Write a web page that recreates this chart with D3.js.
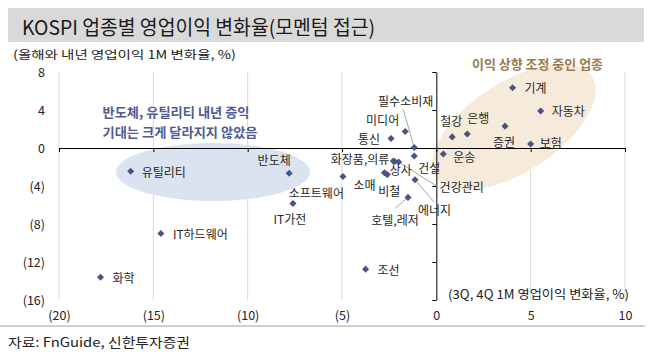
<!DOCTYPE html>
<html><head><meta charset="utf-8">
<script src="https://cdn.jsdelivr.net/npm/d3@7"></script>
<style>
body{margin:0;background:#fff}
text{font-family:"Noto Sans CJK KR","Noto Sans",sans-serif}
</style>
</head><body>
<svg id="c" width="653" height="360"></svg>
<script>
// ---- data ----
const sectors = ["유틸리티","반도체","IT가전","IT하드웨어","화학","조선","소프트웨어","소매","비철","화장품,의류","상사","건강관리","필수소비재","건설","에너지","호텔,레저","통신","미디어","운송","철강","은행","증권","보험","기계","자동차"];
const qChange = [-16.2,-7.8,-7.6,-14.6,-17.8,-3.75,-4.95,-2.75,-2.6,-2.28,-2.2,-2.0,-1.17,-1.17,-1.13,-1.5,-2.4,-1.65,0.37,0.84,1.64,3.64,5.0,4.04,5.53];
const yChange = [-2.45,-2.65,-5.85,-9.0,-13.6,-12.75,-3.0,-2.6,-2.8,-1.38,-1.43,-1.48,0.05,-0.85,-3.35,-5.2,1.0,1.73,-0.64,1.17,1.48,2.3,0.42,6.35,3.9];
const xTicks = [-20,-15,-10,-5,0,5,10];
const yTicks = [8,4,0,-4,-8,-12,-16];

// ---- label layout (px offsets from marker) ----
const labelLayout = {
  "유틸리티":[11,0,"start"],"반도체":[-15,-14,"middle"],"IT가전":[-3,15,"middle"],
  "IT하드웨어":[12,0,"start"],"화학":[12,0,"start"],"조선":[12,0,"start"],
  "소프트웨어":[1,16,"end"],"소매":[-20,12,"middle"],"비철":[2,16,"middle"],
  "화장품,의류":[-4,-3,"end"],"상사":[6,8,"middle"],"건강관리":[41,24,"start"],
  "필수소비재":[19,-47,"end"],"건설":[4,11,"start"],"에너지":[3,30,"start"],
  "호텔,레저":[-13,22,"middle"],"통신":[-11,0,"end"],"미디어":[-6,-12,"end"],
  "운송":[10,2,"start"],"철강":[-1,-16,"middle"],"은행":[11,-16,"middle"],
  "증권":[-1,15,"middle"],"보험":[9,-2,"start"],"기계":[12,0,"start"],"자동차":[11,0,"start"]
};
const leaders = {"필수소비재":[-11,-38],"건강관리":[38,24],"에너지":[19,22],"호텔,레저":[-13,11]};

const svg = d3.select("#c");
const x = d3.scaleLinear().domain([-20,10]).range([59,625]);
const y = d3.scaleLinear().domain([-16,8]).range([300,72]);
const fmt = d => d < 0 ? `(${-d})` : `${d}`;

// title band
svg.append("rect").attr("x",8).attr("y",8).attr("width",636).attr("height",34).attr("fill","#d9d9d9");
svg.append("text").attr("x",22).attr("y",26).attr("dominant-baseline","central")
  .attr("font-size",20).attr("fill","#1a1a1a").attr("textLength",353).attr("lengthAdjust","spacingAndGlyphs")
  .text("KOSPI 업종별 영업이익 변화율(모멘텀 접근)");
svg.append("text").attr("x",13).attr("y",53.5).attr("dominant-baseline","central")
  .attr("font-size",11.5).attr("fill","#222").attr("textLength",223).attr("lengthAdjust","spacingAndGlyphs")
  .text("(올해와 내년 영업이익 1M 변화율, %)");

// gridlines
svg.append("g").selectAll("line").data(xTicks.filter(d=>d!==0)).join("line")
  .attr("x1",d=>x(d)).attr("x2",d=>x(d)).attr("y1",y(8)).attr("y2",y(-16))
  .attr("stroke","#d9d9d9").attr("stroke-width",1);

// ellipses
svg.append("ellipse").attr("cx",213).attr("cy",172).attr("rx",97).attr("ry",29).attr("fill","#dce3f0");
svg.append("ellipse").attr("cx",0).attr("cy",0).attr("rx",93).attr("ry",45)
  .attr("transform","translate(514,127) rotate(-33)").attr("fill","#f6ebdb");

// y axis line at x=0
const yAxis = d3.axisLeft(y).tickValues(yTicks).tickSize(4).tickFormat("").tickSizeOuter(0);
const gy = svg.append("g").attr("transform",`translate(${x(0)},0)`).call(yAxis);
gy.selectAll("path,line").attr("stroke","#000");
// y labels
const gyl = svg.append("g").attr("transform","translate(45,0)")
  .call(d3.axisLeft(y).tickValues(yTicks).tickSize(0).tickPadding(0).tickFormat(fmt));
gyl.select(".domain").remove();
gyl.selectAll("text").attr("font-size",12.5).attr("fill","#222").attr("font-family","'Noto Sans CJK KR',sans-serif");

// x axis line at y=0
const gx = svg.append("g").attr("transform",`translate(0,${y(0)})`)
  .call(d3.axisBottom(x).tickValues(xTicks).tickSize(4).tickFormat("").tickSizeOuter(0));
gx.selectAll("path,line").attr("stroke","#000");
const gxl = svg.append("g").attr("transform","translate(0,316)")
  .call(d3.axisBottom(x).tickValues(xTicks).tickSize(0).tickPadding(0).tickFormat(fmt));
gxl.select(".domain").remove();
gxl.selectAll("text").attr("font-size",12.5).attr("fill","#222").attr("dy","0.32em").attr("y",0)
  .attr("font-family","'Noto Sans CJK KR',sans-serif");

const pts = sectors.map((s,i)=>({name:s,px:x(qChange[i]),py:y(yChange[i])}));

// leaders
svg.append("g").selectAll("line").data(pts.filter(p=>leaders[p.name])).join("line")
  .attr("x1",p=>p.px).attr("y1",p=>p.py)
  .attr("x2",p=>p.px+leaders[p.name][0]).attr("y2",p=>p.py+leaders[p.name][1])
  .attr("stroke","#a6a6a6").attr("stroke-width",1);

// markers
svg.append("g").selectAll("path").data(pts).join("path")
  .attr("d",d3.symbol().type(d3.symbolSquare).size(25))
  .attr("transform",p=>`translate(${p.px},${p.py}) rotate(45)`)
  .attr("fill","#4b5384");

// labels
svg.append("g").selectAll("text").data(pts).join("text")
  .attr("x",p=>p.px+labelLayout[p.name][0]).attr("y",p=>p.py+labelLayout[p.name][1])
  .attr("text-anchor",p=>labelLayout[p.name][2]).attr("dominant-baseline","central")
  .attr("font-size",12).attr("fill","#262626").text(p=>p.name);

// annotations
svg.append("text").attr("x",176).attr("y",111).attr("text-anchor","middle").attr("dominant-baseline","central")
  .attr("font-size",13).attr("font-weight","bold").attr("fill","#505b94")
  .attr("textLength",147).attr("lengthAdjust","spacingAndGlyphs").text("반도체, 유틸리티 내년 증익");
svg.append("text").attr("x",180).attr("y",131).attr("text-anchor","middle").attr("dominant-baseline","central")
  .attr("font-size",13).attr("font-weight","bold").attr("fill","#505b94")
  .attr("textLength",155).attr("lengthAdjust","spacingAndGlyphs").text("기대는 크게 달라지지 않았음");
svg.append("text").attr("x",472).attr("y",63).attr("dominant-baseline","central")
  .attr("font-size",13).attr("font-weight","bold").attr("fill","#9b7b4e")
  .attr("textLength",131).attr("lengthAdjust","spacingAndGlyphs").text("이익 상향 조정 중인 업종");
svg.append("text").attr("x",448).attr("y",293).attr("dominant-baseline","central")
  .attr("font-size",12.5).attr("fill","#222")
  .attr("textLength",181).attr("lengthAdjust","spacingAndGlyphs").text("(3Q, 4Q 1M 영업이익 변화율, %)");

// footer
svg.append("line").attr("x1",0).attr("x2",645).attr("y1",326).attr("y2",326).attr("stroke","#a0a0a0");
svg.append("text").attr("x",8).attr("y",341).attr("dominant-baseline","central")
  .attr("font-size",13).attr("fill","#222")
  .attr("textLength",182).attr("lengthAdjust","spacingAndGlyphs").text("자료: FnGuide, 신한투자증권");
</script>
</body></html>
